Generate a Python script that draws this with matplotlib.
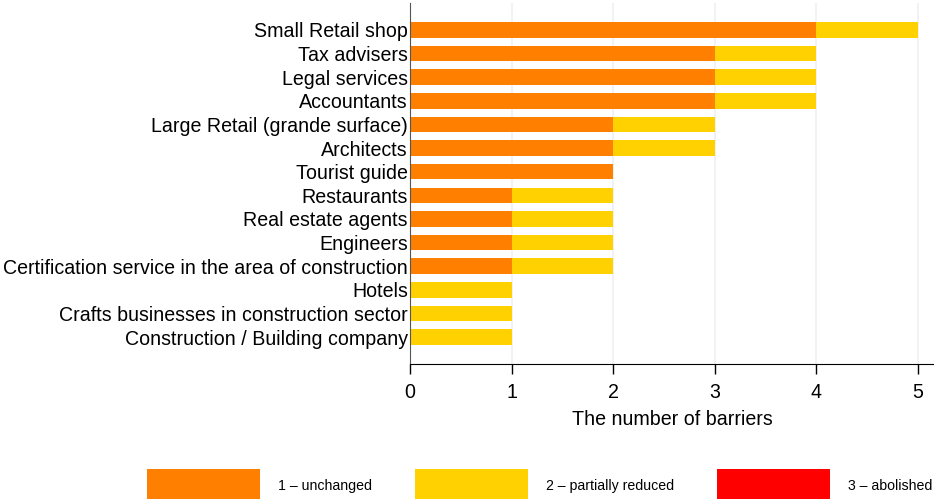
import matplotlib
matplotlib.use("Agg")
import matplotlib.pyplot as plt
from matplotlib.patches import Patch
import numpy as np

categories = [
    "Small Retail shop",
    "Tax advisers",
    "Legal services",
    "Accountants",
    "Large Retail (grande surface)",
    "Architects",
    "Tourist guide",
    "Restaurants",
    "Real estate agents",
    "Engineers",
    "Certification service in the area of construction",
    "Hotels",
    "Crafts businesses in construction sector",
    "Construction / Building company",
]
unchanged = [4, 3, 3, 3, 2, 2, 2, 1, 1, 1, 1, 0, 0, 0]
partially_reduced = [1, 1, 1, 1, 1, 1, 0, 1, 1, 1, 1, 1, 1, 1]
abolished = [0, 0, 0, 0, 0, 0, 0, 0, 0, 0, 0, 0, 0, 0]
series_labels = ["1 \u2013 unchanged", "2 \u2013 partially reduced", "3 \u2013 abolished"]
x_ticks = [0, 1, 2, 3, 4, 5]
x_label = "The number of barriers"

colors = ["#FF8000", "#FFD100", "#FF0000"]

plt.rcParams['font.family'] = ['Liberation Sans', 'DejaVu Sans']

fig = plt.figure(figsize=(9.34, 4.99), dpi=100)
ax = fig.add_axes([410 / 934, 1 - 364 / 499, 1 - 410 / 934, (364 - 3) / 499])

y = np.arange(len(categories))[::-1]
u = np.array(unchanged)
p = np.array(partially_reduced)
a = np.array(abolished)
h = 0.66
ax.barh(y, u, height=h, color=colors[0], zorder=2)
ax.barh(y, p, left=u, height=h, color=colors[1], zorder=2)
ax.barh(y, a, left=u + p, height=h, color=colors[2], zorder=2)

ax.set_xlim(0, 5.16)
ax.set_ylim(-1.14, len(categories) - 1 + 1.14)
ax.set_yticks(y)
ax.set_yticklabels(categories, fontsize=14.15)
ax.set_xticks(x_ticks)
ax.set_xticklabels([str(t) for t in x_ticks], fontsize=14.15)
ax.set_xlabel(x_label, fontsize=14.15, labelpad=6)

ax.tick_params(axis='y', length=0, pad=1.5)
ax.tick_params(axis='x', length=7, width=1, pad=6.5, direction='out')
ax.grid(axis='x', color='#edf1f5', linewidth=1.2, zorder=0)
ax.set_axisbelow(True)
for s in ['top', 'right']:
    ax.spines[s].set_visible(False)
ax.spines['left'].set_color('#555555')
ax.spines['bottom'].set_color('black')

handles = [Patch(facecolor=c, edgecolor='none') for c in colors]
fs = 10.2
fpx = fs * 100 / 72
fig.legend(handles, series_labels, loc='center left',
           bbox_to_anchor=(147 / 934, 1 - 486 / 499), ncol=3, frameon=False,
           prop={'size': fs},
           handlelength=113 / fpx, handleheight=48 / fpx,
           handletextpad=18 / fpx, columnspacing=43 / fpx,
           borderpad=0, borderaxespad=0)

fig.savefig("out.png", dpi=100)
